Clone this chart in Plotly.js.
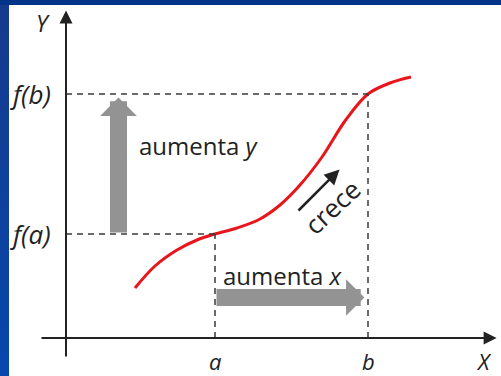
<!DOCTYPE html>
<html>
<head>
<meta charset="utf-8">
<script src="https://cdn.plot.ly/plotly-3.0.1.min.js"></script>
<style>
  html, body { margin: 0; padding: 0; width: 501px; height: 376px; overflow: hidden; }
  body { background: linear-gradient(180deg, #163a8c 0%, #0747ac 100%); position: relative; }
  #topband { position: absolute; left: 0; top: 0; width: 501px; height: 5px; background: #00338a; }
  #chart { position: absolute; left: 9px; top: 5px; width: 492px; height: 371px; background: #fff; }
</style>
</head>
<body>
<div id="topband"></div>
<div id="chart"></div>
<script>
// Curve f(x) (origin at the axes crossing)
const curveX = [6.9, 8.9, 11.1, 13.1, 14.9, 17.1, 19.4, 21.4, 23.4, 25.6, 27.9, 30.2, 32.4, 34.5];
const curveY = [5.0, 7.2, 8.8, 9.8, 10.4, 11.0, 11.9, 13.3, 15.3, 18.1, 21.7, 24.4, 25.5, 26.1];

// Marked points on the x axis and their images on the y axis
const pointLabels = ['a', 'b'];
const pointX = [14.9, 30.2];
const levelLabels = ['f(a)', 'f(b)'];
const levelY = [10.4, 24.4];

const axisLabels = ['X', 'Y'];
const textLabels = ['aumenta ', 'aumenta ', 'crece'];
const textVars = ['y', 'x'];

const font = '"Open Sans", Lato, sans-serif';
const ink = '#222222';
const gray = '#939393';
const dashCol = '#3a3a3a';

const trace = {
  x: curveX, y: curveY, type: 'scatter', mode: 'lines',
  line: { color: '#e8151b', width: 3, shape: 'spline', smoothing: 1 },
  hoverinfo: 'skip'
};

const shapes = [];
for (let i = 0; i < 2; i++) {
  shapes.push({ type: 'line', xref: 'x', yref: 'y', x0: 0, x1: pointX[i], y0: levelY[i], y1: levelY[i],
    line: { color: dashCol, width: 1.5, dash: '6px,5px' } });
  shapes.push({ type: 'line', xref: 'x', yref: 'y', x0: pointX[i], x1: pointX[i], y0: 0, y1: levelY[i],
    line: { color: dashCol, width: 1.5, dash: '6px,5px' } });
}

const annotations = [];
// axes with arrow heads
annotations.push({ x: 43.4, y: 0, ax: -2.6, ay: 0, xref: 'x', yref: 'y', axref: 'x', ayref: 'y', text: '',
  showarrow: true, arrowhead: 2, arrowsize: 1.3, arrowwidth: 2, arrowcolor: ink, standoff: 3.4 });
annotations.push({ x: 0, y: 33.1, ax: 0, ay: -2.0, xref: 'x', yref: 'y', axref: 'x', ayref: 'y', text: '',
  showarrow: true, arrowhead: 2, arrowsize: 1.3, arrowwidth: 2, arrowcolor: ink, standoff: 3.4 });

// big gray arrows
annotations.push({ x: 5.25, y: levelY[1], ax: 5.25, ay: levelY[0], xref: 'x', yref: 'y', axref: 'x', ayref: 'y', text: '',
  showarrow: true, arrowhead: 1, arrowsize: 0.36, arrowwidth: 17, arrowcolor: gray, standoff: 3.6 });
annotations.push({ x: pointX[1], y: 4.05, ax: pointX[0], ay: 4.05, xref: 'x', yref: 'y', axref: 'x', ayref: 'y', text: '',
  showarrow: true, arrowhead: 1, arrowsize: 0.36, arrowwidth: 17, arrowcolor: gray, standoff: 3.6 });

// small "crece" arrow
annotations.push({ x: 27.6, y: 17.1, ax: 23.1, ay: 12.6, xref: 'x', yref: 'y', axref: 'x', ayref: 'y', text: '',
  showarrow: true, arrowhead: 2, arrowsize: 1.2, arrowwidth: 2.5, arrowcolor: ink, standoff: 3.5 });

// labels
const lab = (text, x, y, size, xanchor, extra) => Object.assign({
  text: text, x: x, y: y, xref: 'x', yref: 'y', showarrow: false,
  xanchor: xanchor || 'center', yanchor: 'middle', font: { family: font, size: size, color: ink }
}, extra || {});

annotations.push(lab('<i>' + axisLabels[0] + '</i>', 41.8, -2.3, 22));
annotations.push(lab('<i>' + axisLabels[1] + '</i>', -2.3, 31.5, 23));
for (let i = 0; i < 2; i++) {
  annotations.push(lab('<i>' + pointLabels[i] + '</i>', pointX[i], -2.3, 22));
  annotations.push(lab('<i>' + levelLabels[i] + '</i>', -1.3, levelY[i], 26, 'right'));
}
annotations.push(lab(textLabels[0] + '<i>' + textVars[0] + '</i>', 7.1, 19.3, 24, 'left'));
annotations.push(lab(textLabels[1] + '<i>' + textVars[1] + '</i>', 15.5, 6.3, 24, 'left'));
annotations.push(lab(textLabels[2], 26.6, 13.1, 26, 'center', { textangle: -43 }));

const layout = {
  width: 492, height: 371,
  margin: { l: 0, r: 0, t: 0, b: 0 },
  paper_bgcolor: '#ffffff', plot_bgcolor: '#ffffff',
  showlegend: false,
  xaxis: { range: [-5.7, 43.5], visible: false, fixedrange: true },
  yaxis: { range: [-3.8, 33.3], visible: false, fixedrange: true },
  shapes: shapes,
  annotations: annotations
};

Plotly.newPlot('chart', [trace], layout, { staticPlot: true, displayModeBar: false });
</script>
</body>
</html>
